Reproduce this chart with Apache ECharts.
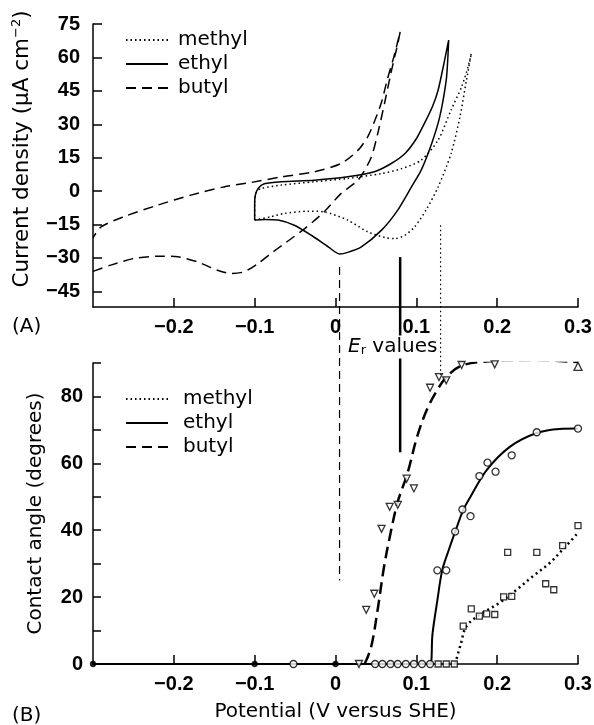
<!DOCTYPE html>
<html>
<head>
<meta charset="utf-8">
<script src="https://cdn.jsdelivr.net/npm/echarts@6/dist/echarts.min.js"></script>
<style>
  html, body { margin: 0; padding: 0; background: #fff; }
  #chart { width: 594px; height: 725px; }
</style>
</head>
<body>
<div id="chart"></div>
<script>
// (A) cyclic voltammograms: [potential (V vs SHE), current density (uA cm-2)]
var methylCV = [
  [-0.100, -13.0], [-0.100, -5.0], [-0.098, -0.5], [-0.092, 1.2], [-0.067, 2.7], [-0.026, 4.2],
  [0.015, 5.7], [0.057, 7.9], [0.081, 10.0], [0.106, 13.9], [0.127, 22.9], [0.143, 36.4],
  [0.156, 46.8], [0.164, 55.8], [0.168, 61.8],
  [0.162, 49.8], [0.154, 33.4], [0.143, 16.9], [0.127, 1.9], [0.112, -8.5], [0.098, -16.0],
  [0.085, -20.0], [0.073, -21.3], [0.061, -20.8], [0.040, -18.3], [0.015, -13.0], [-0.014, -9.3],
  [-0.034, -9.0], [-0.063, -10.0], [-0.080, -11.5], [-0.100, -13.0]
]
var ethylCV = [
  [-0.100, -13.0], [-0.100, -6.0], [-0.099, -1.5], [-0.095, 1.5], [-0.088, 3.3], [-0.067, 4.2],
  [-0.026, 4.9], [0.015, 6.4], [0.048, 8.7], [0.069, 12.4], [0.086, 16.9], [0.100, 23.5],
  [0.110, 30.4], [0.120, 38.0], [0.127, 45.4], [0.135, 58.8], [0.140, 67.8],
  [0.139, 60.0], [0.137, 49.8], [0.129, 33.4], [0.119, 21.4], [0.106, 9.4], [0.094, 1.9],
  [0.077, -8.5], [0.057, -17.5], [0.032, -25.0], [0.015, -27.5], [0.005, -28.2], [-0.009, -25.0],
  [-0.030, -19.8], [-0.051, -15.3], [-0.071, -13.0], [-0.088, -12.7], [-0.100, -13.0]
]
var butylCV = [
  [-0.300, -36.0], [-0.278, -33.2], [-0.249, -30.2], [-0.220, -29.2], [-0.195, -29.5], [-0.171, -31.7],
  [-0.146, -35.5], [-0.129, -37.0], [-0.113, -36.2], [-0.096, -32.5], [-0.080, -28.0], [-0.063, -23.5],
  [-0.038, -16.8], [-0.014, -9.3], [0.007, -1.0], [0.028, 5.0], [0.044, 15.0], [0.053, 27.0],
  [0.061, 40.0], [0.068, 52.0], [0.073, 60.0], [0.077, 66.0], [0.080, 71.5],
  [0.072, 60.0], [0.064, 50.0], [0.057, 40.0], [0.049, 32.0], [0.040, 24.5], [0.028, 18.4],
  [0.007, 12.4], [-0.026, 8.7], [-0.067, 6.4], [-0.104, 3.9], [-0.138, 1.9], [-0.179, -1.8],
  [-0.220, -6.3], [-0.262, -11.5], [-0.290, -16.0], [-0.300, -21.0]
]

// (B) contact angle measurements: [potential (V vs SHE), angle (degrees)]
var methylAngle = [
  [0.127, 0], [0.137, 0], [0.147, 0], [0.158, 11.3], [0.168, 16.5], [0.178, 14.3], [0.187, 15.0],
  [0.197, 14.8], [0.208, 20.1], [0.213, 33.4], [0.218, 20.2], [0.249, 33.4], [0.260, 24.0],
  [0.270, 22.2], [0.281, 35.4], [0.300, 41.4]
]
var ethylAngle = [
  [-0.052, 0], [0.049, 0], [0.058, 0], [0.068, 0], [0.077, 0], [0.087, 0], [0.097, 0], [0.107, 0],
  [0.117, 0], [0.126, 28.0], [0.137, 28.0], [0.148, 39.6], [0.157, 46.2], [0.167, 44.2],
  [0.178, 56.2], [0.188, 60.2], [0.198, 57.5], [0.218, 62.4], [0.249, 69.3], [0.300, 70.4]
]
var butylAngle = [
  [0.029, 0], [0.038, 16.2], [0.048, 21.0], [0.057, 40.4], [0.067, 47.0], [0.077, 47.6],
  [0.088, 55.4], [0.097, 52.5], [0.117, 82.6], [0.128, 85.8], [0.137, 84.8], [0.149, 90.1],
  [0.156, 89.4], [0.178, 90.4], [0.197, 89.6], [0.249, 90.6]
]
var butylAngleUp = [[0.300, 89.0]]
var overlapPoints = [[-0.300, 0], [-0.100, 0], [0.000, 0]]

// fitted curves in (B)
var methylFit = [
  [0.148, 0], [0.155, 6.0], [0.162, 11.3], [0.179, 14.8], [0.203, 18.3], [0.224, 22.2],
  [0.244, 26.2], [0.265, 30.2], [0.281, 34.2], [0.300, 39.2]
]
var ethylFit = [
  [-0.300, 0], [0.117, 0], [0.120, 9.0], [0.126, 19.0], [0.132, 28.0], [0.140, 34.0], [0.148, 39.5],
  [0.158, 46.0], [0.167, 50.0], [0.187, 58.0], [0.216, 65.0], [0.248, 69.0], [0.277, 70.3], [0.300, 70.4]
]
var butylFit = [
  [0.036, 0], [0.044, 5.0], [0.052, 16.0], [0.060, 29.0], [0.068, 39.0], [0.077, 48.5],
  [0.089, 57.0], [0.101, 68.0], [0.113, 76.0], [0.126, 82.0], [0.138, 86.0], [0.154, 89.0],
  [0.179, 90.3], [0.250, 90.8], [0.300, 90.3]
]

// E_r markers: potential, top end in (A) current units, bottom end in (B) degrees
var erNames = ['butyl', 'ethyl', 'methyl']
var erValues = [0.005, 0.080, 0.130]
var erTopCurrent = [-34, -29.6, -15.3]
var erBottomAngle = [25, 63.3, 86.5]

var currentTicks = [-45, -30, -15, 0, 15, 30, 45, 60, 75]

var TICK_FONT = 'Liberation Sans, Arial, sans-serif'
var FONT = 'DejaVu Sans, sans-serif'
var styles = {
  methyl: { type: [1.5, 3], width: 1.5 },
  ethyl: { type: 'solid', width: 1.5 },
  butyl: { type: [10, 6], width: 1.5 }
}

function potLabel(v) {
  if (Math.abs(v) < 1e-9) return '0'
  return (v < 0 ? '\u2212' : '') + Math.abs(v).toFixed(1)
}

function xAxisFor(grid, extra) {
  return Object.assign({
    type: 'value',
    gridIndex: grid,
    min: -0.3,
    max: 0.3,
    interval: 0.1,
    axisLine: { onZero: false, lineStyle: { color: '#000', width: 1.5 } },
    axisTick: { inside: true, length: 9, lineStyle: { color: '#000', width: 1.5 } },
    axisLabel: {
      showMinLabel: false, color: '#000', fontSize: 20, fontWeight: 'bold',
      fontFamily: TICK_FONT, margin: 10, formatter: potLabel
    },
    splitLine: { show: false }
  }, extra || {})
}

function cvSeries(name, data) {
  return {
    name: name,
    type: 'line',
    xAxisIndex: 0,
    yAxisIndex: 0,
    data: data,
    symbol: 'none',
    smooth: 0.25,
    lineStyle: { color: '#000', type: styles[name].type, width: styles[name].width },
    itemStyle: { color: '#000' },
    animation: false
  }
}

function pointSeries(name, data, symbol, size, rotate, filled) {
  return {
    name: name,
    type: 'scatter',
    xAxisIndex: 1,
    yAxisIndex: 1,
    data: data,
    symbol: symbol,
    symbolSize: size,
    symbolRotate: rotate || 0,
    itemStyle: { color: filled ? '#000' : '#fff', borderColor: '#000', borderWidth: 1.3 },
    z: 5,
    animation: false
  }
}

function fitSeries(name, data, type, width) {
  return {
    name: name,
    type: 'line',
    xAxisIndex: 1,
    yAxisIndex: 1,
    data: data,
    symbol: 'none',
    smooth: 0.35,
    lineStyle: { color: '#000', type: type, width: width },
    z: 3,
    animation: false
  }
}

function legendAt(top, gap) {
  return {
    data: ['methyl', 'ethyl', 'butyl'],
    orient: 'vertical',
    left: 125,
    top: top,
    padding: 0,
    itemWidth: 42,
    itemHeight: 14,
    itemGap: 4,
    selectedMode: false,
    itemStyle: { opacity: 0 },
    textStyle: { color: '#000', fontSize: 20, fontFamily: FONT, padding: [0, 0, 0, gap] }
  }
}

var chart = echarts.init(document.getElementById('chart'), null, { renderer: 'canvas' })

chart.setOption({
  backgroundColor: '#fff',
  animation: false,
  grid: [
    { left: 93, top: 24, width: 485, height: 283, outerBoundsMode: 'none' },
    { left: 93, top: 363, width: 485, height: 301, outerBoundsMode: 'none' }
  ],
  legend: [legendAt(30, 5), legendAt(389, 10)],
  xAxis: [
    xAxisFor(0),
    xAxisFor(1, {
      name: 'Potential (V versus SHE)',
      nameLocation: 'middle',
      nameGap: 38,
      nameTextStyle: { color: '#000', fontSize: 20, fontFamily: FONT }
    })
  ],
  yAxis: [
    {
      type: 'value',
      gridIndex: 0,
      min: -52,
      max: 75,
      axisLine: { onZero: false, lineStyle: { color: '#000', width: 1.5 } },
      axisTick: { inside: true, length: 9, customValues: currentTicks, lineStyle: { color: '#000', width: 1.5 } },
      axisLabel: {
        customValues: currentTicks, color: '#000', fontSize: 20, fontWeight: 'bold',
        fontFamily: TICK_FONT, margin: 13,
        formatter: function (v) { return v < 0 ? '\u2212' + Math.abs(v) : String(v) }
      },
      splitLine: { show: false }
    },
    {
      type: 'value',
      gridIndex: 1,
      min: 0,
      max: 90,
      interval: 10,
      name: 'Contact angle (degrees)',
      nameLocation: 'middle',
      nameRotate: 90,
      nameGap: 47,
      nameTextStyle: { color: '#000', fontSize: 20, fontFamily: FONT },
      axisLine: { onZero: false, lineStyle: { color: '#000', width: 1.5 } },
      axisTick: { inside: true, length: 8, lineStyle: { color: '#000', width: 1.5 } },
      axisLabel: {
        color: '#000', fontSize: 20, fontWeight: 'bold', fontFamily: TICK_FONT, margin: 10,
        formatter: function (v) { return v % 20 === 0 ? String(v) : '' }
      },
      splitLine: { show: false }
    }
  ],
  series: [
    cvSeries('methyl', methylCV),
    cvSeries('ethyl', ethylCV),
    cvSeries('butyl', butylCV),
    fitSeries('methyl fit', methylFit, [2, 3.5], 2.5),
    fitSeries('ethyl fit', ethylFit, 'solid', 2),
    fitSeries('butyl fit', butylFit, [12, 6], 2.5),
    pointSeries('methyl points', methylAngle, 'rect', 6, 0, false),
    pointSeries('ethyl points', ethylAngle, 'circle', 7, 0, false),
    pointSeries('butyl points', butylAngle, 'triangle', 7, 180, false),
    pointSeries('butyl points up', butylAngleUp, 'triangle', 8, 0, false),
    pointSeries('overlap', overlapPoints, 'circle', 5, 0, true)
  ]
})

// E_r marker lines run from panel A down into panel B, placed through both grids' scales
var erStyle = {
  butyl: { stroke: '#000', lineWidth: 1.2, lineDash: [8, 5] },
  ethyl: { stroke: '#000', lineWidth: 2.5 },
  methyl: { stroke: '#000', lineWidth: 1.2, lineDash: [1.5, 3] }
}
var graphics = []
erValues.forEach(function (v, i) {
  var top = chart.convertToPixel({ gridIndex: 0 }, [v, erTopCurrent[i]])
  var bottom = chart.convertToPixel({ gridIndex: 1 }, [v, erBottomAngle[i]])
  graphics.push({
    type: 'line',
    shape: { x1: top[0], y1: top[1], x2: top[0], y2: bottom[1] },
    style: erStyle[erNames[i]],
    z: 10
  })
})
graphics.push({
  type: 'text',
  x: 347, y: 347, z: 20,
  style: {
    text: '{e|E}{r|r}{t| values}',
    verticalAlign: 'middle',
    backgroundColor: '#fff',
    padding: [1, 1, 1, 1],
    rich: {
      e: { fontSize: 20, fontStyle: 'italic', fontFamily: FONT, fill: '#000' },
      r: { fontSize: 13, fontFamily: FONT, fill: '#000', verticalAlign: 'bottom', padding: [8, 0, 0, 0] },
      t: { fontSize: 20, fontFamily: FONT, fill: '#000' }
    }
  }
})
graphics.push({
  type: 'text',
  x: 22, y: 149, rotation: Math.PI / 2, z: 20,
  style: {
    text: '{t|Current density (\u03bcA cm}{s|\u22122}{t|)}',
    align: 'center',
    verticalAlign: 'middle',
    rich: {
      t: { fontSize: 21.5, fontFamily: FONT, fill: '#000' },
      s: { fontSize: 13, fontFamily: FONT, fill: '#000', padding: [0, 0, 10, 0] }
    }
  }
})
graphics.push({
  type: 'text', x: 12, y: 327, z: 20,
  style: { text: '(A)', fontSize: 20, fontFamily: FONT, fill: '#000', verticalAlign: 'middle' }
})
graphics.push({
  type: 'text', x: 12, y: 716, z: 20,
  style: { text: '(B)', fontSize: 20, fontFamily: FONT, fill: '#000', verticalAlign: 'middle' }
})
chart.setOption({ graphic: graphics })
</script>
</body>
</html>
